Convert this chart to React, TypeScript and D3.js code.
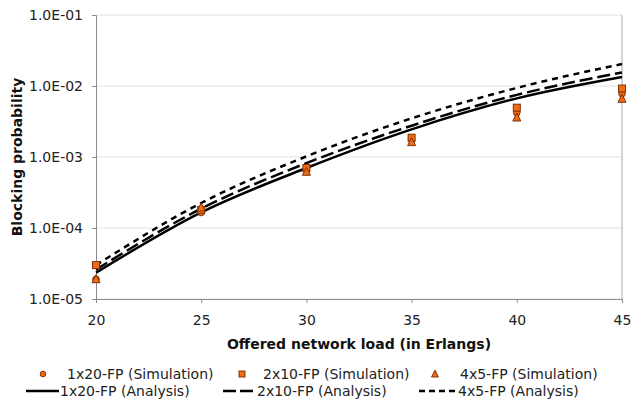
import * as d3 from "d3";
import { useEffect, useRef } from "react";

// offered load (Erlangs)
const loads = [20, 25, 30, 35, 40, 45];

// simulation results
const sim1x20 = [1.9e-5, 1.65e-4, 6.5e-4, 1.75e-3, 4.2e-3, 7.8e-3];
const sim2x10 = [3.0e-5, 1.8e-4, 7.0e-4, 1.87e-3, 4.95e-3, 9.2e-3];
const sim4x5 = [1.9e-5, 1.95e-4, 6.2e-4, 1.62e-3, 3.6e-3, 6.6e-3];

// analysis results
const ana1x20 = [2.35e-5, 1.66e-4, 7.0e-4, 2.45e-3, 6.7e-3, 1.34e-2];
const ana2x10 = [2.6e-5, 1.87e-4, 8.2e-4, 2.76e-3, 7.5e-3, 1.55e-2];
const ana4x5 = [3.0e-5, 2.25e-4, 1.02e-3, 3.5e-3, 9.4e-3, 2.04e-2];

const xTicks = [20, 25, 30, 35, 40, 45];
const yTicks = [1e-5, 1e-4, 1e-3, 1e-2, 1e-1];
const yTickLabels = ["1.0E-05", "1.0E-04", "1.0E-03", "1.0E-02", "1.0E-01"];

const simNames = ["1x20-FP (Simulation)", "2x10-FP (Simulation)", "4x5-FP (Simulation)"];
const anaNames = ["1x20-FP (Analysis)", "2x10-FP (Analysis)", "4x5-FP (Analysis)"];

const WIDTH = 631;
const HEIGHT = 405;
const FONT = "'DejaVu Sans', Verdana, sans-serif";
const ORANGE = "#f26c0f";
const ORANGE_EDGE = "#7a3206";

const App = () => {
  const svgRef = useRef(null);

  useEffect(() => {
    const svg = d3.select(svgRef.current);
    svg.selectAll("*").remove();

    const margin = { top: 15, right: 9, bottom: 106, left: 96 };
    const x = d3
      .scaleLinear()
      .domain([20, 45])
      .range([margin.left, WIDTH - margin.right]);
    const y = d3
      .scaleLog()
      .domain([1e-5, 1e-1])
      .range([HEIGHT - margin.bottom, margin.top]);

    // gridlines
    svg
      .append("g")
      .selectAll("line")
      .data(yTicks)
      .enter()
      .append("line")
      .attr("x1", x(20))
      .attr("x2", x(45))
      .attr("y1", (d) => y(d))
      .attr("y2", (d) => y(d))
      .attr("stroke", "#e2e2e2")
      .attr("stroke-width", 1);

    // right border
    svg
      .append("line")
      .attr("x1", x(45))
      .attr("x2", x(45))
      .attr("y1", y(1e-1))
      .attr("y2", y(1e-5))
      .attr("stroke", "#a8a8a8");

    // y axis
    const yAxis = svg
      .append("g")
      .attr("transform", `translate(${x(20)},0)`)
      .call(
        d3
          .axisLeft(y)
          .tickValues(yTicks)
          .tickFormat((d, i) => yTickLabels[i])
          .tickSize(4)
          .tickPadding(9)
      );
    yAxis.select(".domain").attr("stroke", "#8c8c8c");
    yAxis.selectAll(".tick line").attr("stroke", "#8c8c8c");
    yAxis
      .selectAll("text")
      .attr("font-family", FONT)
      .attr("font-size", 14)
      .attr("fill", "#222");

    // x axis
    const xAxis = svg
      .append("g")
      .attr("transform", `translate(0,${y(1e-5)})`)
      .call(d3.axisBottom(x).tickValues(xTicks).tickSize(4).tickPadding(12));
    xAxis.select(".domain").attr("stroke", "#8c8c8c");
    xAxis.selectAll(".tick line").attr("stroke", "#8c8c8c");
    xAxis
      .selectAll("text")
      .attr("font-family", FONT)
      .attr("font-size", 14)
      .attr("fill", "#222");

    // axis titles
    svg
      .append("text")
      .attr("x", (x(20) + x(45)) / 2)
      .attr("y", 349)
      .attr("text-anchor", "middle")
      .attr("font-family", FONT)
      .attr("font-size", 14)
      .attr("font-weight", "bold")
      .attr("fill", "#111")
      .text("Offered network load (in Erlangs)");

    svg
      .append("text")
      .attr("transform", `translate(22,${(y(1e-1) + y(1e-5)) / 2}) rotate(-90)`)
      .attr("text-anchor", "middle")
      .attr("font-family", FONT)
      .attr("font-size", 14)
      .attr("font-weight", "bold")
      .attr("fill", "#111")
      .text("Blocking probability");

    // analysis curves
    const line = d3
      .line()
      .x((d) => x(d[0]))
      .y((d) => y(d[1]))
      .curve(d3.curveMonotoneX);

    const dashes = [null, "13,5", "6,5"];
    [ana1x20, ana2x10, ana4x5].forEach((series, i) => {
      svg
        .append("path")
        .datum(loads.map((l, j) => [l, series[j]]))
        .attr("d", line)
        .attr("fill", "none")
        .attr("stroke", "#000")
        .attr("stroke-width", 2.5)
        .attr("stroke-dasharray", dashes[i]);
    });

    // simulation markers
    const drawMarker = (g, kind, cx, cy, s = 1) => {
      if (kind === 0) {
        g.append("circle").attr("cx", cx).attr("cy", cy).attr("r", 3.3 * s);
      } else if (kind === 1) {
        g.append("rect")
          .attr("x", cx - 3.5 * s)
          .attr("y", cy - 3.5 * s)
          .attr("width", 7 * s)
          .attr("height", 7 * s);
      } else {
        g.append("path").attr(
          "d",
          `M${cx},${cy - 4.5 * s}L${cx + 4 * s},${cy + 3.5 * s}L${cx - 4 * s},${cy + 3.5 * s}Z`
        );
      }
    };

    [sim1x20, sim2x10, sim4x5].forEach((series, i) => {
      const g = svg
        .append("g")
        .attr("fill", ORANGE)
        .attr("stroke", ORANGE_EDGE)
        .attr("stroke-width", 1);
      loads.forEach((l, j) => drawMarker(g, i, x(l), y(series[j])));
    });

    // legend
    const legend = svg
      .append("g")
      .attr("font-family", FONT)
      .attr("font-size", 14)
      .attr("fill", "#222");
    const simX = [43, 242, 435];
    const simTextX = [67, 263, 460];
    simNames.forEach((name, i) => {
      const g = legend
        .append("g")
        .attr("fill", ORANGE)
        .attr("stroke", ORANGE_EDGE);
      drawMarker(g, i, simX[i], 374, 0.85);
      legend.append("text").attr("x", simTextX[i]).attr("y", 379).text(name);
    });

    const anaX = [[26, 59], [223, 253], [419, 457]];
    const legendDashes = [null, "13,4", "6,4"];
    anaNames.forEach((name, i) => {
      legend
        .append("line")
        .attr("x1", anaX[i][0])
        .attr("x2", anaX[i][1])
        .attr("y1", 391)
        .attr("y2", 391)
        .attr("stroke", "#000")
        .attr("stroke-width", 2.5)
        .attr("stroke-dasharray", legendDashes[i]);
      legend
        .append("text")
        .attr("x", anaX[i][1] + (i === 1 ? 4 : 1))
        .attr("y", 396)
        .text(name);
    });
  }, []);

  return (
    <svg
      ref={svgRef}
      width={WIDTH}
      height={HEIGHT}
      style={{ position: "absolute", left: 0, top: 0, background: "#fff" }}
    ></svg>
  );
};

export default App;
